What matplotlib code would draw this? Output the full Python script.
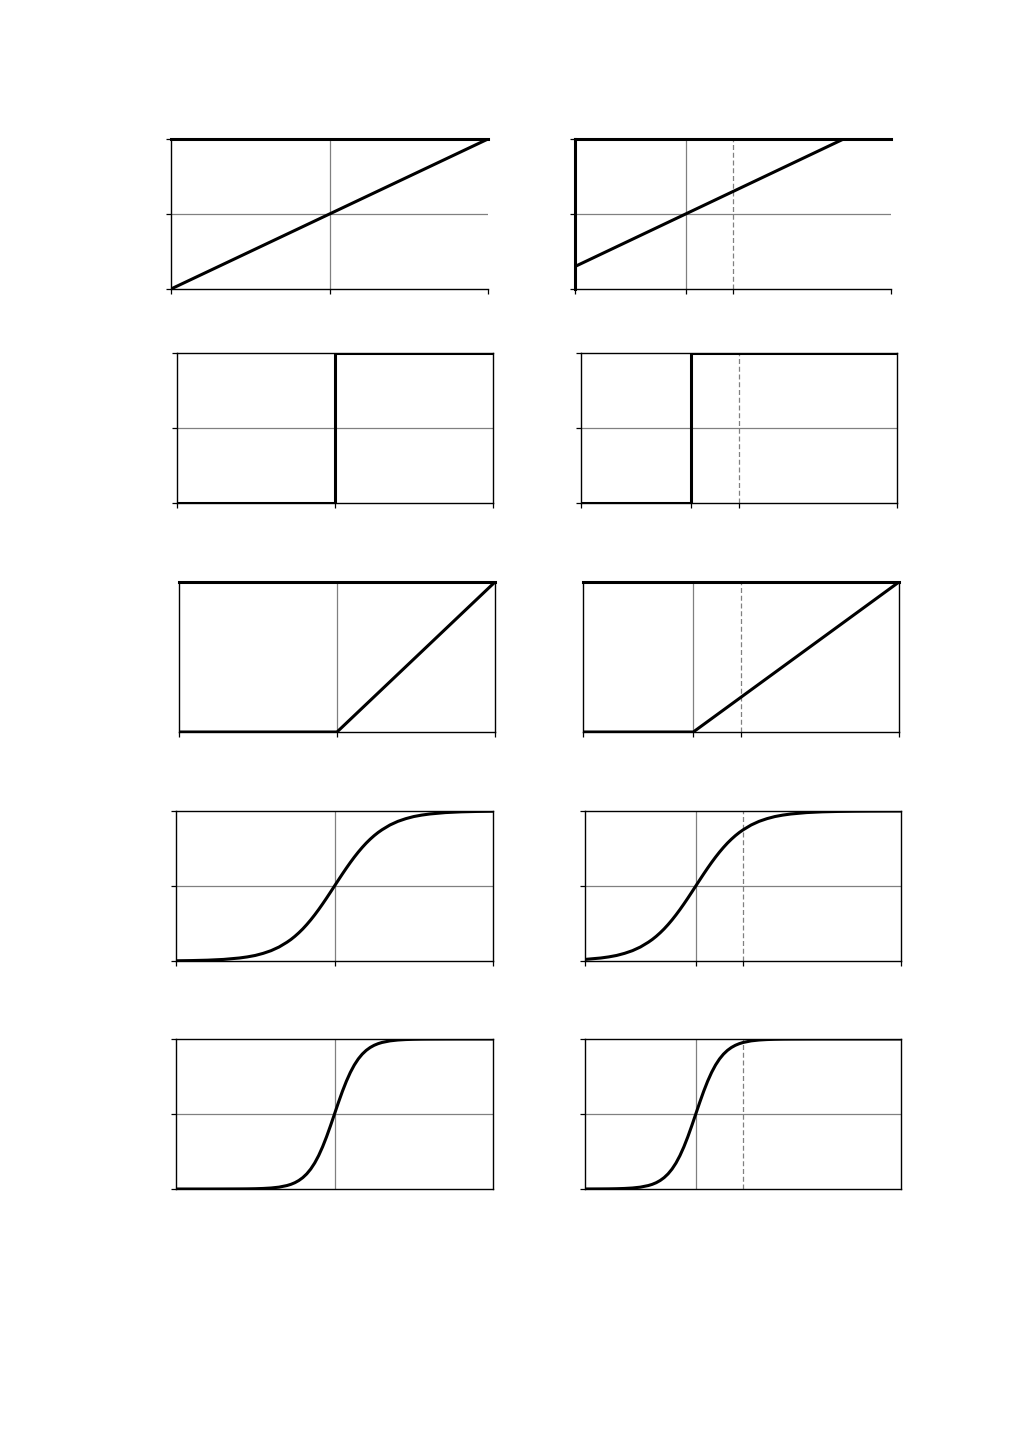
import matplotlib
matplotlib.use("Agg")
import matplotlib.pyplot as plt

# ---- data ----
# left panels show x in [-5, 5]; right panels show the same curve in [-3.5, 6.5]
x_lin = [-5.0, 6.5]
y_lin = [-5.0, 6.5]

x_step = [-5.0, 0.0, 0.0, 6.5]
y_step = [0.0, 0.0, 1.0, 1.0]

x_relu = [-5.0, 0.0, 6.5]
y_relu = [0.0, 0.0, 6.5]

x_sig = [-5.0, -4.5, -4.0, -3.5,
         -3.0, -2.75, -2.5, -2.25, -2.0, -1.75, -1.5,
         -1.375, -1.25, -1.125, -1.0, -0.875, -0.75, -0.625, -0.5, -0.375, -0.25, -0.125,
         0.0,
         0.125, 0.25, 0.375, 0.5, 0.625, 0.75, 0.875, 1.0, 1.125, 1.25, 1.375,
         1.5, 1.75, 2.0, 2.25, 2.5, 2.75, 3.0,
         3.5, 4.0, 4.5, 5.0, 5.5, 6.0, 6.5]
y_sig_soft = [0.0015, 0.0029, 0.0055, 0.0105,
              0.020, 0.0273, 0.037, 0.051, 0.069, 0.0932, 0.125,
              0.1434, 0.1645, 0.1881, 0.214, 0.2428, 0.2739, 0.3074, 0.343, 0.3805, 0.4194, 0.4595,
              0.5,
              0.5405, 0.5806, 0.6195, 0.657, 0.6926, 0.7261, 0.7572, 0.786, 0.8119, 0.8355, 0.8566,
              0.875, 0.9068, 0.931, 0.949, 0.963, 0.9727, 0.980,
              0.9895, 0.9945, 0.9971, 0.9985, 0.9992, 0.9996, 0.9998]
y_sig_steep = [0.0, 0.0, 0.0, 0.0002,
               0.0006, 0.001, 0.0019, 0.0036, 0.0067, 0.0124, 0.023,
               0.0311, 0.042, 0.0567, 0.0759, 0.1009, 0.133, 0.1733, 0.2227, 0.2814, 0.3486, 0.4225,
               0.5,
               0.5775, 0.6514, 0.7186, 0.7773, 0.8267, 0.867, 0.8991, 0.9241, 0.9433, 0.958, 0.9689,
               0.977, 0.9876, 0.9933, 0.9964, 0.9981, 0.999, 0.9994,
               0.9998, 1.0, 1.0, 1.0, 1.0, 1.0, 1.0]

xlim_left = (-5.0, 5.0)
xlim_right = (-3.5, 6.5)
xticks_left = [-5.0, 0.0, 5.0]
xticks_right = [-3.5, 0.0, 1.5, 6.5]
shift_right = 1.5  # dashed marker in right column

rows = [
    dict(x=x_lin, y=y_lin, ylim_l=(-5, 5), ylim_r=(-5, 5)),
    dict(x=x_step, y=y_step, ylim_l=(0, 1), ylim_r=(0, 1)),
    dict(x=x_relu, y=y_relu, ylim_l=(0, 5), ylim_r=(0, 6.5)),
    dict(x=x_sig, y=y_sig_soft, ylim_l=(0, 1), ylim_r=(0, 1)),
    dict(x=x_sig, y=y_sig_steep, ylim_l=(0, 1), ylim_r=(0, 1)),
]

# panel boxes in pixels: (left, top, right, bottom)
W, H = 1009, 1441
boxes = [
    [(171, 139, 488, 289), (575, 139, 891, 289)],
    [(176.5, 353, 492.5, 503), (580.5, 353, 896.5, 503)],
    [(179, 582, 495, 732), (582.5, 582, 899, 732)],
    [(176, 811, 493, 961), (585, 811, 901.5, 961)],
    [(176, 1039, 493, 1189), (585, 1039, 901.5, 1189)],
]

GRID = "#808080"
fig = plt.figure(figsize=(W / 100, H / 100), dpi=100)

for r, row in enumerate(rows):
    for c in range(2):
        l, t, rr, b = boxes[r][c]
        ax = fig.add_axes([l / W, 1 - b / H, (rr - l) / W, (b - t) / H])
        xlim = xlim_left if c == 0 else xlim_right
        ylim = row["ylim_l"] if c == 0 else row["ylim_r"]
        ax.set_xlim(*xlim)
        ax.set_ylim(*ylim)

        # grid lines
        ax.axvline(0, color=GRID, lw=0.9, zorder=1)
        if r != 2:
            ax.axhline((ylim[0] + ylim[1]) / 2, color=GRID, lw=0.9, zorder=1)
        if c == 1:
            ax.axvline(shift_right, color=GRID, lw=0.9, ls=(0, (4, 2.2)), zorder=1)

        ax.plot(row["x"], row["y"], color="black", lw=2.2, zorder=3,
                solid_capstyle="butt", solid_joinstyle="round")

        # ticks
        ax.set_xticks(xticks_left if c == 0 else xticks_right)
        ax.set_yticks([ylim[0], (ylim[0] + ylim[1]) / 2, ylim[1]])
        ax.set_xticklabels([])
        ax.set_yticklabels([])
        ax.tick_params(direction="out", length=3.5, width=0.9, color="black",
                       top=False, right=False)
        if r == 2:
            ax.tick_params(axis="y", length=0)
        if r == 4:
            ax.tick_params(axis="x", length=0)

        for s in ax.spines.values():
            s.set_linewidth(1.0)
            s.set_color("black")
        if r == 0:
            ax.spines["right"].set_visible(False)
        if r in (0, 2):
            ax.spines["top"].set_linewidth(2.2)
        if r == 0 and c == 1:
            ax.spines["left"].set_linewidth(2.2)

fig.savefig("out.png", dpi=100, facecolor="white")
